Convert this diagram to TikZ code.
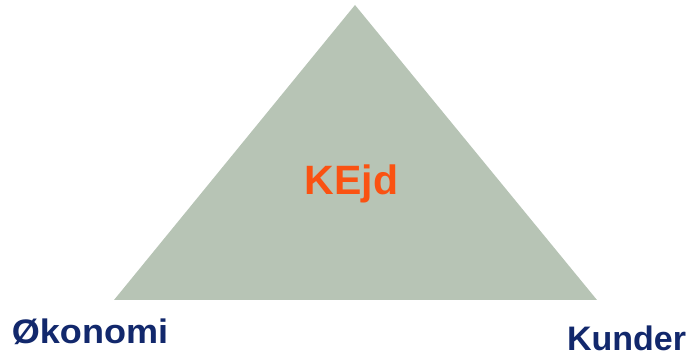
\documentclass[tikz,border=0pt]{standalone}
\usepackage{fontspec}
\setmainfont{Liberation Sans}
\definecolor{sage}{RGB}{183,196,181}
\definecolor{flame}{RGB}{250,82,18}
\definecolor{navy}{RGB}{18,40,108}
\tikzset{
  corner/.style={navy,font=\fontsize{34}{40}\selectfont\bfseries,anchor=base,inner sep=0pt},
  core/.style={flame,font=\fontsize{41}{48}\selectfont\bfseries,anchor=base,inner sep=0pt}
}

\begin{document}
\begin{tikzpicture}[x=1pt,y=-1pt]
  \useasboundingbox (0,0) rectangle (694,358);
  % the triangle
  \coordinate (top) at (355,5);
  \coordinate (left) at (114,300);
  \coordinate (right) at (597,300);
  \fill[sage] (top) -- (right) -- (left) -- cycle;
  % labels
  \node[core] (kejd) at (351.5,195) {KEjd};
  \node[corner,xscale=1.06] (okonomi) at (90,343) {Økonomi};
  \node[corner] (kunder) at (626.5,350) {Kunder};
\end{tikzpicture}
\end{document}
